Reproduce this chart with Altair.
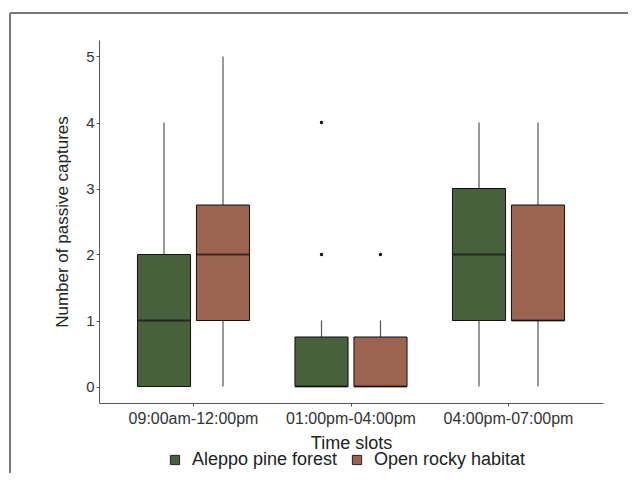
import altair as alt
import pandas as pd

slots = ["09:00am-12:00pm", "01:00pm-04:00pm", "04:00pm-07:00pm"]
habitats = ["Aleppo pine forest", "Open rocky habitat"]

# per habitat, per slot: whisker low, q1, median, q3, whisker high
aleppo_lo = [0, 0, 0]
aleppo_q1 = [0, 0, 1]
aleppo_med = [1, 0, 2]
aleppo_q3 = [2, 0.75, 3]
aleppo_hi = [4, 1, 4]

rocky_lo = [0, 0, 0]
rocky_q1 = [1, 0, 1]
rocky_med = [2, 0, 1]
rocky_q3 = [2.75, 0.75, 2.75]
rocky_hi = [5, 1, 4]

out_slot = ["01:00pm-04:00pm", "01:00pm-04:00pm", "01:00pm-04:00pm"]
out_hab = ["Aleppo pine forest", "Aleppo pine forest", "Open rocky habitat"]
out_val = [2, 4, 2]

colors = ["#46613c", "#9c6351"]

rows = []
for h, lo, q1, med, q3, hi in [
    (habitats[0], aleppo_lo, aleppo_q1, aleppo_med, aleppo_q3, aleppo_hi),
    (habitats[1], rocky_lo, rocky_q1, rocky_med, rocky_q3, rocky_hi),
]:
    for i, s in enumerate(slots):
        rows.append(dict(slot=s, habitat=h, lo=lo[i], q1=q1[i], med=med[i], q3=q3[i], hi=hi[i]))
df = pd.DataFrame(rows)
outs = pd.DataFrame(dict(slot=out_slot, habitat=out_hab, val=out_val))

FONT = "Liberation Sans"

x = alt.X("slot:N", sort=slots,
          scale=alt.Scale(paddingInner=0, paddingOuter=0.1),
          axis=alt.Axis(title="Time slots", labelAngle=0, labelFontSize=16,
                        labelColor="#333333", titleFontSize=18, titleFontWeight="normal",
                        titleColor="#222222", titlePadding=8, domainColor="#555555",
                        tickColor="#555555", tickSize=3, labelPadding=4, labelFont=FONT,
                        titleFont=FONT))
xo = alt.XOffset("habitat:N", sort=habitats,
                 scale=alt.Scale(paddingInner=0.1, paddingOuter=0.385))
yscale = alt.Scale(domain=[-0.25, 5.25], nice=False, zero=False)
yaxis = alt.Axis(title="Number of passive captures", values=[0, 1, 2, 3, 4, 5],
                 grid=False, labelFontSize=15, labelColor="#333333", titleFontSize=17,
                 titleFontWeight="normal", titleColor="#222222", domainColor="#555555",
                 tickColor="#555555", tickSize=3, titlePadding=14, labelFont=FONT,
                 titleFont=FONT)

base = alt.Chart(df)

whisk_lo = base.mark_rule(color="#555555", strokeWidth=1.2).encode(
    x=x, xOffset=xo, y=alt.Y("lo:Q", scale=yscale, axis=yaxis), y2="q1:Q")
whisk_hi = base.mark_rule(color="#555555", strokeWidth=1.2).encode(
    x=x, xOffset=xo, y=alt.Y("q3:Q", scale=yscale, axis=yaxis), y2="hi:Q")
boxes = base.mark_bar(stroke="#111111", strokeWidth=1).encode(
    x=x, xOffset=xo, y=alt.Y("q1:Q", scale=yscale, axis=yaxis), y2="q3:Q",
    color=alt.Color("habitat:N", sort=habitats,
                    scale=alt.Scale(domain=habitats, range=colors),
                    legend=alt.Legend(title=None, orient="none", direction="horizontal",
                                      legendX=67, legendY=411, symbolType="square",
                                      symbolSize=85, symbolStrokeColor="#222222",
                                      symbolStrokeWidth=1, labelFontSize=18,
                                      labelColor="#222222", labelFont=FONT,
                                      labelOffset=8, columnPadding=10, symbolOpacity=1)))
medians = base.mark_tick(color="#111111", thickness=1.8, size=53).encode(
    x=x, xOffset=xo, y=alt.Y("med:Q", scale=yscale, axis=yaxis))
points = alt.Chart(outs).mark_circle(color="#111111", size=12, opacity=1).encode(
    x=x, xOffset=xo, y=alt.Y("val:Q", scale=yscale, axis=yaxis))

frame_top = alt.Chart(df).mark_rule(color="#777777", strokeWidth=1.5).encode(
    x=alt.value(-89), x2=alt.value(700), y=alt.value(-27))
frame_left = alt.Chart(df).mark_rule(color="#777777", strokeWidth=1.5).encode(
    x=alt.value(-89), y=alt.value(-27), y2=alt.value(600))

chart = alt.layer(frame_top, frame_left, whisk_lo, whisk_hi, boxes, medians, points).properties(
    width=504, height=363,
    autosize=alt.AutoSizeParams(type="none"),
    padding={"left": 91, "top": 32, "right": 25, "bottom": 70},
    background="white",
).configure_view(stroke=None)

chart.save("out.html", embed_options={"renderer": "svg", "actions": False})
